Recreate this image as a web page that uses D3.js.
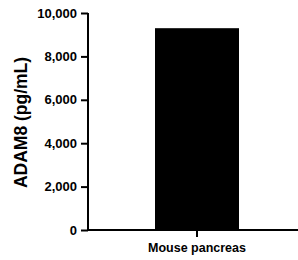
<!DOCTYPE html>
<html><head><meta charset="utf-8">
<script src="https://cdn.jsdelivr.net/npm/d3@7"></script>
<style>body{margin:0;background:#fff}svg{display:block}text{font-family:Arial,"Liberation Sans",sans-serif;font-weight:bold;fill:#000}</style>
</head><body>
<script>
const categories = ["Mouse pancreas"];
const values = [9300];
const yTicks = [0, 2000, 4000, 6000, 8000, 10000];
const yLabel = "ADAM8 (pg/mL)";

const W = 298, H = 260;
const svg = d3.select("body").append("svg").attr("width", W).attr("height", H);
const x0 = 88, x1 = 298, yTop = 13, yBot = 230;
const y = d3.scaleLinear().domain([0, 10000]).range([yBot, yTop]);
const x = d3.scaleBand().domain(categories).range([113, 281]).paddingInner(0).paddingOuter(0.5);

svg.selectAll("rect.bar").data(values).enter().append("rect")
  .attr("x", (d,i) => x(categories[i])).attr("width", x.bandwidth())
  .attr("y", d => y(d)).attr("height", d => y(0) - y(d)).attr("fill", "#000");

const yAxis = d3.axisLeft(y).tickValues(yTicks).tickSize(7).tickPadding(4).tickFormat(d3.format(","));
const gy = svg.append("g").attr("transform", `translate(${x0},0)`).call(yAxis);
gy.select(".domain").attr("stroke-width", 2).attr("d", `M0,${yTop}V${yBot+1}`);
gy.selectAll(".tick line").attr("stroke-width", 2);
gy.selectAll(".tick text").style("font-size", "13px").style("font-family", "Arial, 'Liberation Sans', sans-serif").style("font-weight", "bold");

const xAxis = d3.axisBottom(x).tickSize(7).tickPadding(6);
const gx = svg.append("g").attr("transform", `translate(0,${yBot})`).call(xAxis);
gx.select(".domain").attr("stroke-width", 2).attr("d", `M${x0-1},0H${x1}`);
gx.selectAll(".tick line").attr("stroke-width", 2);
gx.selectAll(".tick text").style("font-size", "12.5px").style("font-family", "Arial, 'Liberation Sans', sans-serif").style("font-weight", "bold");

svg.append("text").attr("transform", `translate(27,${(57+188)/2}) rotate(-90)`)
  .attr("text-anchor", "middle").style("font-size", "17.5px").text(yLabel);
</script>
</body></html>
